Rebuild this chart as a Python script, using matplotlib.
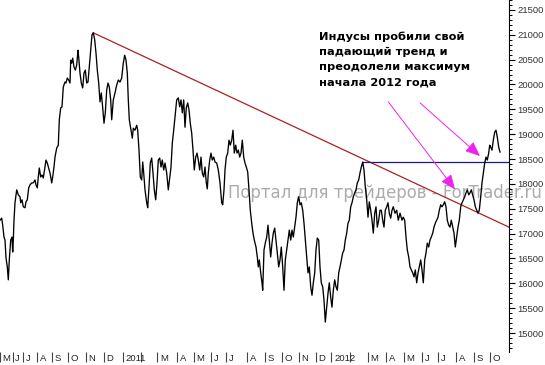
import matplotlib
matplotlib.use("Agg")
import matplotlib.pyplot as plt
import matplotlib.transforms as mtrans
from matplotlib.ticker import MultipleLocator

# ---------------- data (session position, close) ----------------
t = [0, 1.7, 2.7, 4, 5, 6, 7.3, 8.3, 9.3, 10.7, 12, 12.7, 13.3, 14, 15, 16.7, 18.3, 20, 20.7, 22,
     23.3, 25, 26, 27.3, 28.7, 30, 31.7, 33.3, 35, 36, 37.3, 38.3, 39.3, 40.7, 42, 43.3, 45, 46, 47.3, 48.7,
     50, 51.7, 52.7, 54, 55, 56.7, 58.3, 59.3, 60.7, 62, 63.3, 65, 66, 67.3, 68.7, 70, 70.7, 71.7, 72.7, 74,
     75.3, 76.7, 78, 78.7, 80, 81.3, 82.7, 84, 85.3, 86.7, 88, 89.3, 90.7, 92, 93.3, 94.7, 96, 97.3, 98.7, 100,
     101.3, 102.7, 104, 105.3, 106.7, 108, 109.3, 110.7, 111.7, 113.3, 115, 116.7, 118.3, 120, 121.7, 123.3, 124.7, 126, 127.3, 128.3,
     129.3, 131, 132.3, 133.3, 135, 136.7, 137.7, 139, 140.3, 141.7, 142.7, 143.7, 145, 146.7, 147.7, 149, 150.3, 151.7, 153, 154.3,
     155.7, 157, 158.3, 159.7, 161, 162.3, 163.7, 165, 166.7, 168.3, 169.7, 171, 172.3, 173.7, 175, 176.7, 178.3, 179.7, 181, 182.3,
     183.7, 185, 186.3, 187.7, 189, 190.3, 191.7, 193, 194.3, 195.7, 197, 198.3, 199.7, 201, 202.3, 203.7, 205, 206.3, 207.3, 208.3,
     209.7, 211, 212.3, 213.7, 215, 216.7, 218.3, 220, 221.7, 222.7, 224, 225, 226.3, 227.7, 229, 230.3, 231.7, 233, 234.3, 235.7,
     237, 238.3, 239.7, 241, 242.3, 243.7, 245, 246.3, 247.7, 249, 250.3, 251.7, 253, 254.3, 256, 257.3, 258.3, 259.3, 260.7, 262,
     262.7, 264, 265.3, 266.7, 268, 269.3, 270.7, 272, 273.3, 274.7, 276, 277.3, 278.7, 280, 281.3, 282.7, 284, 285.3, 286.7, 288,
     289.3, 290.7, 292, 293.3, 294.7, 296, 297.3, 298.7, 300, 301.3, 302.7, 304, 305.3, 306.7, 308, 309.3, 310.7, 312, 313.3, 314.7,
     316, 317.3, 318.7, 320, 321.3, 322.7, 324, 325.3, 326.7, 328, 329.3, 330.7, 332, 333.3, 334.7, 336, 337.3, 338.7, 340, 341.3,
     342.7, 344, 345.3, 346.7, 348, 349.3, 350.7, 352, 353.3, 354.7, 356, 357.3, 358.7, 360, 361.3, 362.7, 364, 365.3, 366.7, 368,
     369.3, 370.7, 372, 373.3, 374.7, 376, 377.3, 378.7, 380, 381.3, 382.7, 384, 385.3, 386.7, 388, 389.3, 390.7, 392, 393.3, 395,
     396.7, 398.3, 400, 402, 403.3, 404.7, 406, 407.3, 408.7, 410, 411.3, 412.7, 414, 415.3, 416.7, 418, 419.3, 420.7, 422, 423.3,
     424.7, 426, 427.3, 428.7, 430, 431.3, 432.7, 434, 435.3, 436.7, 438, 439.3, 440.7, 442, 443.3, 444.7, 446, 447.3, 448.7, 450,
     451.3, 452.7, 454, 455.3, 456.7, 458, 459.3, 460.7, 462, 463.3, 464.7, 466, 467.3, 468.7, 470, 471.3, 472.7, 474, 475.3, 476.7,
     478, 479.3, 480.7, 482, 483.3, 484.7, 486, 487.3, 488.7, 489.7, 490.7, 492, 493.3, 494.7, 496, 497.3, 498.7, 500]

close = [17270, 17310, 17170, 16930, 16870, 16510, 16330, 16070, 16470, 16870, 16930, 16630, 16870, 17270, 17620, 17880, 17780, 17740, 17620, 17680,
         17540, 17520, 17640, 17680, 17920, 17980, 18020, 18020, 18080, 17980, 17920, 18140, 18320, 18140, 18180, 18120, 18340, 18480, 18420, 18320,
         18220, 18020, 18140, 18340, 18540, 18720, 18780, 19290, 19530, 19550, 19950, 20050, 20030, 20130, 20090, 20030, 20490, 20430, 20530, 20350,
         20290, 20390, 20690, 20550, 20230, 20030, 19930, 20230, 20290, 20030, 20050, 20350, 20690, 21000, 21040, 20900, 20630, 20290, 20030, 19650,
         19830, 19530, 19220, 19430, 19890, 20030, 19950, 19690, 19290, 19690, 19830, 19990, 20090, 20050, 20130, 20430, 20590, 20490, 20230, 19690,
         19290, 19080, 18920, 19120, 19080, 19180, 19080, 18680, 18140, 18080, 18440, 18220, 17880, 17620, 17520, 17940, 18420, 18520, 18220, 17880,
         17680, 18020, 18480, 18520, 18340, 18480, 18280, 18420, 18220, 17880, 18120, 18340, 18820, 19080, 19350, 19690, 19730, 19550, 19690, 19430,
         19690, 19140, 19530, 19630, 19490, 19220, 19020, 18680, 18280, 18540, 18620, 18480, 18280, 18540, 18220, 18140, 18340, 18020, 17900, 18220,
         18480, 18620, 18480, 18540, 18440, 18420, 18280, 18020, 17620, 17580, 17880, 18280, 18540, 18620, 18880, 18780, 18880, 19080, 18620, 18780,
         18620, 18680, 18540, 18620, 18880, 18540, 18420, 18340, 18240, 17880, 17470, 17210, 17010, 16870, 16730, 16530, 16330, 16470, 16210, 16010,
         15860, 16670, 16810, 16930, 17170, 16870, 16530, 16810, 17010, 17110, 16870, 16610, 16330, 16470, 16730, 16330, 15860, 16470, 16670, 16870,
         17070, 16870, 17070, 16930, 17130, 17330, 17620, 17740, 17580, 17620, 17470, 17210, 16870, 16530, 16210, 16330, 15930, 15760, 16010, 16210,
         16670, 16910, 16870, 16330, 16010, 15930, 15660, 15220, 15520, 15800, 16010, 15720, 15520, 15860, 16070, 15930, 15860, 16210, 16330, 16470,
         16610, 16670, 16870, 17010, 17210, 17270, 17540, 17620, 17740, 17820, 17880, 18020, 18080, 18220, 18340, 18440, 18280, 17940, 17680, 17330,
         17640, 17470, 17270, 17010, 17410, 17540, 17130, 17270, 17470, 17470, 17270, 17130, 17470, 17540, 17620, 17410, 17310, 17470, 17540, 17410,
         17470, 17270, 17410, 17270, 17330, 17270, 16930, 16670, 16530, 16330, 16270, 16210, 16130, 16270, 16010, 16210, 16330, 16470, 16270, 16010,
         16470, 16610, 16810, 16730, 16870, 16930, 17010, 17130, 17210, 17270, 17330, 17470, 17580, 17540, 17580, 17640, 17540, 17270, 17170, 17130,
         17270, 17130, 17010, 16730, 16930, 17130, 17270, 17540, 17620, 17680, 17740, 17820, 17880, 17780, 17820, 17880, 17780, 17680, 17540, 17470,
         17410, 17470, 17740, 18020, 18220, 18420, 18540, 18480, 18620, 18780, 18740, 18680, 18880, 19040, 19080, 18940, 18740, 18640]

month_ticks = [0, 12.7, 23.3, 37.3, 51.7, 68.3, 86, 104, 122.7, 141, 157.5, 177, 194, 211, 226.5, 247, 265, 282, 299, 316,
               331.5, 350, 368, 386, 404, 422.5, 438, 456.5, 474, 490]
month_labels = ['M', 'J', 'J', 'A', 'S', 'O', 'N', 'D', '2011', '', 'M', 'A', 'M', 'J', 'J', 'A', 'S', 'O', 'N', 'D',
                '2012', '', 'M', 'A', 'M', 'J', 'J', 'A', 'S', 'O']

trend_t = [93.3, 509]
trend_p = [21040, 17130]
resist_t = [362.7, 509]
resist_p = [18440, 18440]

arrow_from = [(388.3, 19650), (420, 19630)]
arrow_to = [(455, 17890), (480, 18560)]

note = "Индусы пробили свой\nпадающий тренд и\nпреодолели максимум\nначала 2012 года"
watermark = "Портал для трейдеров - ForTrader.ru"

# ---------------- figure ----------------
W, H = 545, 365
fig = plt.figure(figsize=(W / 100, H / 100), dpi=100)
fig.patch.set_facecolor('white')
ax = fig.add_axes([0, 13 / H, 509 / W, 352 / H])
ax.set_facecolor('white')

ax.text(228 / W, 1 - 193 / H, watermark, transform=fig.transFigure, color='#ababab',
        fontsize=11.9, family='DejaVu Sans', va='center', ha='left', zorder=1, clip_on=False)

ax.plot(t, close, color='black', lw=0.95, zorder=3)
ax.plot(trend_t, trend_p, color='#aa2222', lw=0.9, zorder=2)
ax.plot(resist_t, resist_p, color='#1a1a80', lw=0.9, zorder=2)

for (x0, y0), (x1, y1) in zip(arrow_from, arrow_to):
    ax.annotate('', xy=(x1, y1), xytext=(x0, y0),
                arrowprops=dict(arrowstyle='-|>,head_length=0.9,head_width=0.38', color='#ee22ee',
                                lw=0.7, mutation_scale=10, shrinkA=0, shrinkB=0), zorder=4)

fig.text(319 / W, 1 - 31 / H, note, fontsize=8.2, fontweight='bold', family='DejaVu Sans',
         va='top', ha='left', linespacing=1.65, color='black')

ax.set_xlim(0, 509)
ax.set_ylim(14618, 21700)

for s in ['left', 'top', 'bottom']:
    ax.spines[s].set_visible(False)
ax.spines['right'].set_linewidth(0.8)

ax.yaxis.tick_right()
ax.yaxis.set_minor_locator(MultipleLocator(100))
ax.set_yticks([v for v in range(15000, 21501, 500)])
ax.tick_params(axis='y', which='major', length=4.3, width=0.8, pad=1.5, labelsize=6.8,
               labelcolor='#333333', labelfontfamily='Liberation Sans')
ax.tick_params(axis='y', which='minor', length=2.2, width=0.7)

ax.set_xticks(month_ticks)
ax.tick_params(axis='x', length=7.2, width=0.8, direction='out', labelbottom=False, color='#444444')
offset = mtrans.ScaledTranslation(2.5 / 100, -2 / 100, fig.dpi_scale_trans)
trans = mtrans.blended_transform_factory(ax.transData, ax.transAxes) + offset
for mt, lab in zip(month_ticks, month_labels):
    if lab:
        ax.text(mt, 0, lab, transform=trans, fontsize=6.8, family='Liberation Sans',
                va='top', ha='left', color='#222222', clip_on=False)

fig.savefig('out.png', dpi=100)
